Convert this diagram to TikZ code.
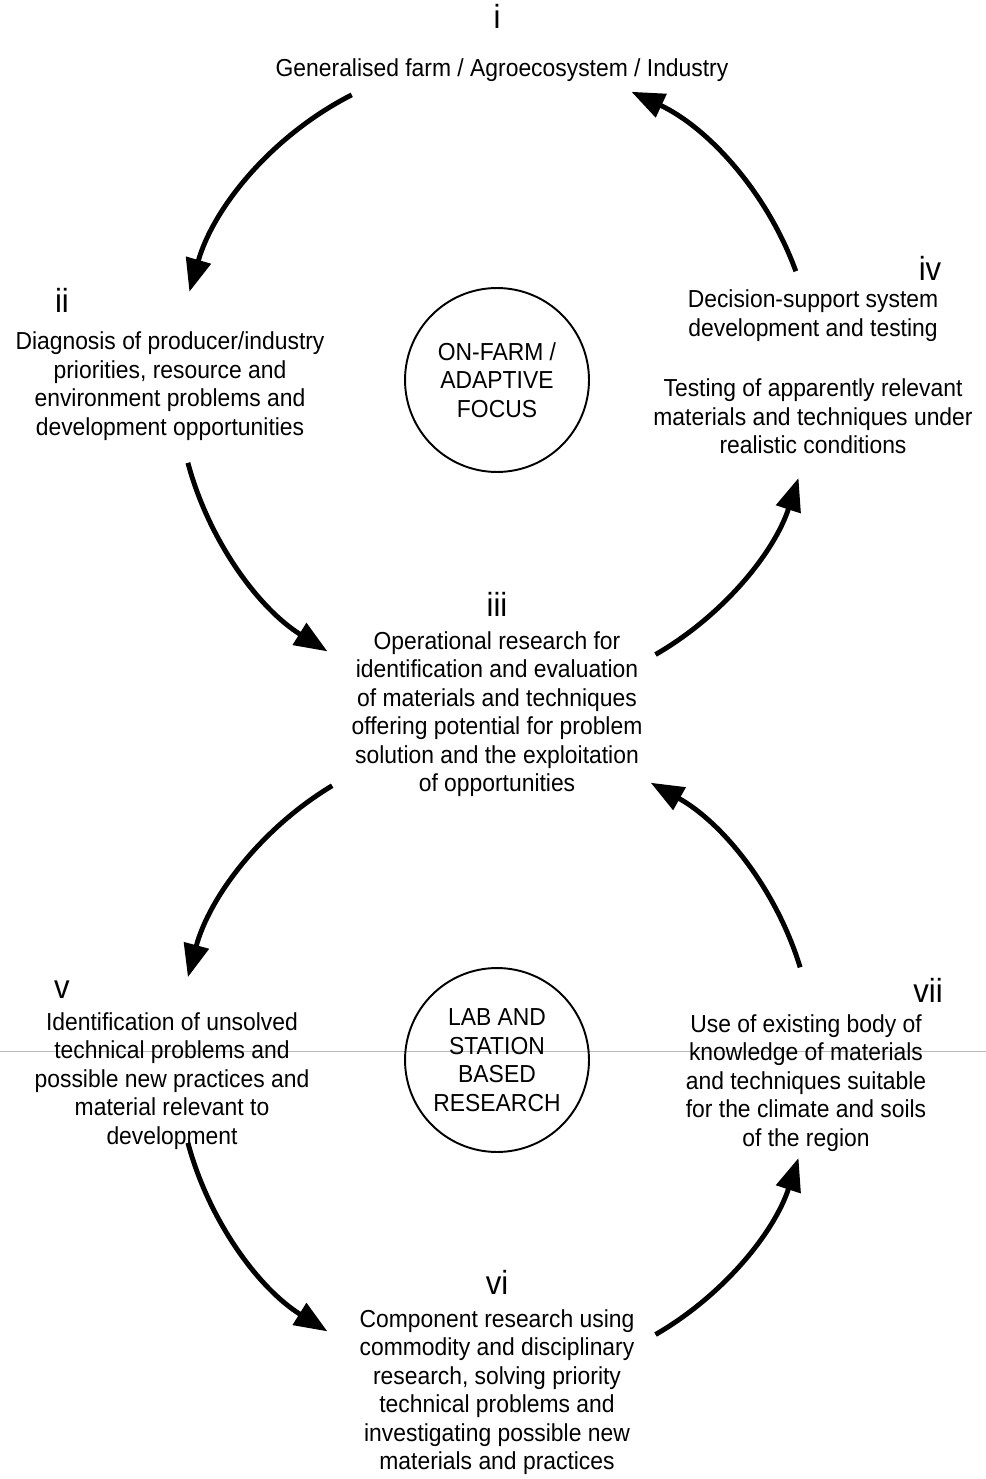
\documentclass[tikz,border=0pt]{standalone}
\usepackage{fontspec}
\setmainfont{Liberation Sans}[FakeStretch=0.93]
\usetikzlibrary{arrows.meta}

\begin{document}
\begin{tikzpicture}[x=0.02cm, y=0.02cm,
    flow/.style={line width=2.8pt, -{Triangle[length=0.66cm, width=0.5cm]}},
    focus/.style={shape=circle, draw=black, line width=1.1pt, minimum size=3.68cm, inner sep=0pt, align=center, font=\fontsize{14}{16.2}\selectfont},
    stage/.style={align=center, font=\fontsize{14}{16.2}\selectfont},
    numeral/.style={font=\fontsize{19}{20}\selectfont}]
    \useasboundingbox (0,0) rectangle (986,-1479);
    \draw[gray!55, line width=0.4pt] (0,-1051) -- (986,-1051);

    \node[numeral] (n_i) at (497,-16) {i};
    \node[stage] (farm) at (502,-70) {Generalised farm / Agroecosystem / Industry};

    \node[numeral] (n_ii) at (62,-300) {ii};
    \node[stage] (diagnosis) at (170,-386) {Diagnosis of producer/industry\\priorities, resource and\\environment problems and\\development opportunities};

    \node[focus] (onfarm) at (497,-380) {ON-FARM /\\ADAPTIVE\\FOCUS};

    \node[numeral] (n_iv) at (930,-268) {iv};
    \node[stage] (testing) at (813,-372) {Decision-support system\\development and testing\\[0.64cm]Testing of apparently relevant\\materials and techniques under\\realistic conditions};

    \node[numeral] (n_iii) at (497,-604) {iii};
    \node[stage] (operational) at (497,-714) {Operational research for\\identification and evaluation\\of materials and techniques\\offering potential for problem\\solution and the exploitation\\of opportunities};

    \node[numeral] (n_v) at (62,-990) {v};
    \node[stage] (unsolved) at (172,-1081) {Identification of unsolved\\technical problems and\\possible new practices and\\material relevant to\\development};

    \node[focus] (station) at (497,-1060) {LAB AND\\STATION\\BASED\\RESEARCH};

    \node[numeral] (n_vii) at (928,-990) {vii};
    \node[stage] (existing) at (806,-1083) {Use of existing body of\\knowledge of materials\\and techniques suitable\\for the climate and soils\\of the region};

    \node[numeral] (n_vi) at (497,-1282) {vi};
    \node[stage] (component) at (497,-1392) {Component research using\\commodity and disciplinary\\research, solving priority\\technical problems and\\investigating possible new\\materials and practices};

    \draw[flow] (onfarm.center) ++(117:320) arc[start angle=117, end angle=164, radius=320];
    \draw[flow] (onfarm.center) ++(195:320) arc[start angle=195, end angle=238, radius=320];
    \draw[flow] (onfarm.center) ++(-60:317) arc[start angle=-60, end angle=-18, radius=317];
    \draw[flow] (onfarm.center) ++(20:318) arc[start angle=20, end angle=65, radius=318];

    \draw[flow] (station.center) ++(121:320) arc[start angle=121, end angle=165, radius=320];
    \draw[flow] (station.center) ++(195:320) arc[start angle=195, end angle=238, radius=320];
    \draw[flow] (station.center) ++(-60:317) arc[start angle=-60, end angle=-18, radius=317];
    \draw[flow] (station.center) ++(17:317) arc[start angle=17, end angle=61, radius=317];
\end{tikzpicture}
\end{document}
